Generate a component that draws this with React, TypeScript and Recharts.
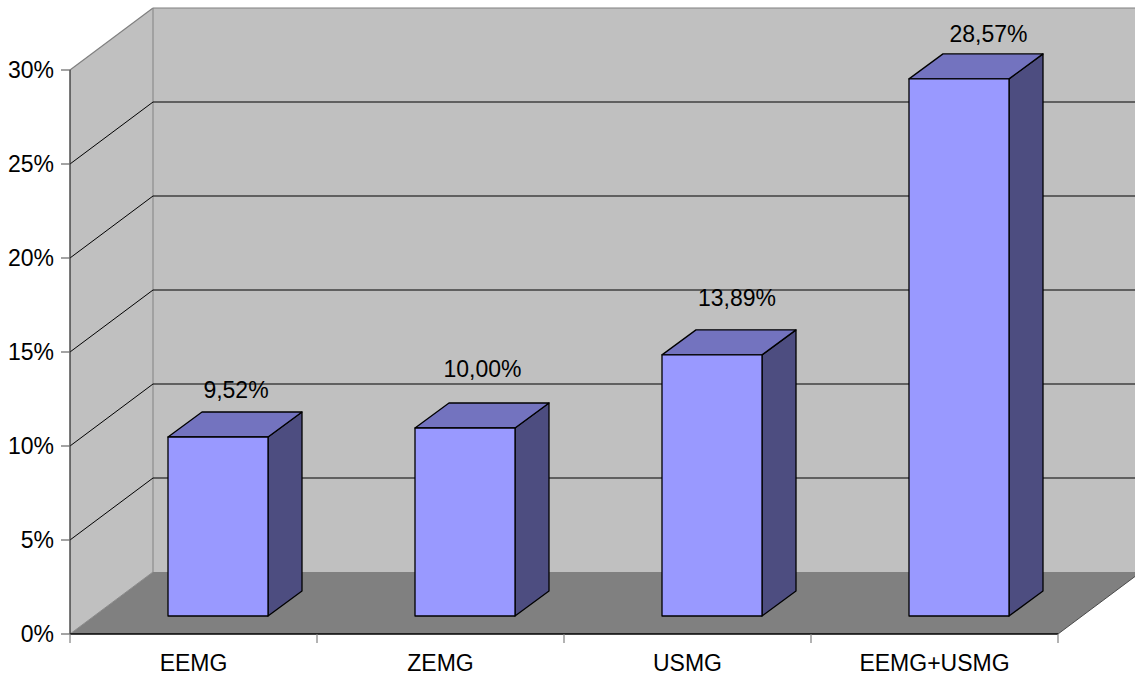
import React from 'react';
import { BarChart, Bar, XAxis, YAxis, CartesianGrid, ReferenceArea, LabelList } from 'recharts';

// Share per group, in percent
const categories = ['EEMG', 'ZEMG', 'USMG', 'EEMG+USMG'];
const shares = [9.52, 10.0, 13.89, 28.57];
const yTicks = [0, 5, 10, 15, 20, 25, 30];

const data = categories.map((name, i) => ({ name, value: shares[i] }));

const FONT = '"Liberation Sans", Arial, sans-serif';
const FONT_SIZE = 23;
// depth of the floor / walls (3D offset from the front plane to the back wall)
const DX = 83;
const DY = 62;
// front face of the bars sits this far into the depth, bars are BDX x BDY deep
const BX = 24;
const BY = 18;
const BDX = 34;
const BDY = 25;
// placement of each value label relative to the bar's front-face centre / top-back edge
const LABEL_SHIFT_X = [18, 17.5, 25, 29.5];
const LABEL_RISE = [14, 26, 24, 12];

const fmt = (v: number) => v.toFixed(2).replace('.', ',') + '%';

// Left wall, back wall and floor, built from the plot rectangle of 0%..30%
const Walls = (p: any) => {
  const { x, y, width, height } = p;
  const L = x;
  const R = x + width;
  const T = y;
  const B = y + height;
  return (
    <g>
      <polygon points={`${L},${B} ${L},${T} ${L + DX},${T - DY} ${L + DX},${B - DY}`} fill="#C0C0C0" />
      <polygon points={`${L + DX},${T - DY} ${R + DX},${T - DY} ${R + DX},${B - DY} ${L + DX},${B - DY}`} fill="#C0C0C0" />
      <polygon points={`${L},${B} ${R},${B} ${R + DX},${B - DY} ${L + DX},${B - DY}`} fill="#808080" />
      <line x1={L} y1={T} x2={L + DX} y2={T - DY} stroke="#808080" strokeWidth={1.2} />
      <line x1={L + DX} y1={T - DY} x2={R + DX} y2={T - DY} stroke="#808080" strokeWidth={1.2} />
      <line x1={L + DX} y1={T - DY} x2={L + DX} y2={B - DY} stroke="#8C8C8C" strokeWidth={1.2} />
      <line x1={L} y1={B} x2={L + DX} y2={B - DY} stroke="#8A8A8A" strokeWidth={1} />
      <line x1={R} y1={B} x2={R + DX} y2={B - DY} stroke="#4A4A4A" strokeWidth={1} />
    </g>
  );
};

// Each value gridline runs diagonally up the left wall and across the back wall
const GridLine = (p: any) => {
  const { x1, y1, x2 } = p;
  const top = p.y;
  const bottom = p.y + p.height;
  if (Math.abs(y1 - top) < 0.5 || Math.abs(y1 - bottom) < 0.5) {
    return <g />;
  }
  return (
    <g>
      <line x1={x1} y1={y1} x2={x1 + DX} y2={y1 - DY} stroke="#000" strokeWidth={1} />
      <line x1={x1 + DX} y1={y1 - DY} x2={x2 + DX} y2={y1 - DY} stroke="#000" strokeWidth={1} />
    </g>
  );
};

// Box-shaped bar: front, top and side faces
const Bar3D = (p: any) => {
  const { x, y, width, height } = p;
  if (height == null || width == null) return <g />;
  const fx = x + BX;
  const fy = y - BY;
  const w = width;
  const h = height;
  return (
    <g stroke="#000" strokeWidth={1.3} strokeLinejoin="round">
      <polygon
        points={`${fx + w},${fy} ${fx + w + BDX},${fy - BDY} ${fx + w + BDX},${fy + h - BDY} ${fx + w},${fy + h}`}
        fill="#4D4D80"
      />
      <polygon
        points={`${fx},${fy} ${fx + BDX},${fy - BDY} ${fx + w + BDX},${fy - BDY} ${fx + w},${fy}`}
        fill="#7373BF"
      />
      <rect x={fx} y={fy} width={w} height={h} fill="#9999FF" />
    </g>
  );
};

const BarValue = (p: any) => {
  const { x, y, width, value, index } = p;
  const i = index ?? 0;
  return (
    <text
      x={x + BX + width / 2 + (LABEL_SHIFT_X[i] ?? 20)}
      y={y - BY - BDY - (LABEL_RISE[i] ?? 14)}
      textAnchor="middle"
      fontSize={FONT_SIZE}
      fontFamily={FONT}
      fill="#000"
    >
      {fmt(Number(value))}
    </text>
  );
};

// Category label centred in its band, with tick marks at the band boundaries
const XTick = (p: any) => {
  const { x, y, payload, index, visibleTicksCount } = p;
  const half = payload && payload.offset ? payload.offset : 123.5;
  const last = index === (visibleTicksCount ?? categories.length) - 1;
  return (
    <g>
      <line x1={x - half} y1={y} x2={x - half} y2={y + 9} stroke="#808080" strokeWidth={1.2} />
      {last && <line x1={x + half} y1={y} x2={x + half} y2={y + 9} stroke="#808080" strokeWidth={1.2} />}
      <text x={x} y={y + 37} textAnchor="middle" fontSize={FONT_SIZE} fontFamily={FONT} fill="#000">
        {payload.value}
      </text>
    </g>
  );
};

export default function App() {
  return (
    <div style={{ position: 'absolute', left: 0, top: 0, width: 1135, height: 678, background: '#fff' }}>
      <BarChart
        width={1135}
        height={678}
        data={data}
        margin={{ top: 70, right: 77, bottom: 14, left: 0 }}
      >
        <ReferenceArea y1={0} y2={30} ifOverflow="visible" shape={Walls} zIndex={-150} />
        <CartesianGrid vertical={false} horizontal={GridLine} />
        <XAxis
          dataKey="name"
          height={30}
          tickLine={false}
          tickSize={0}
          tickMargin={0}
          interval={0}
          axisLine={{ stroke: '#000', strokeWidth: 1.3 }}
          tick={XTick}
        />
        <YAxis
          width={70}
          domain={[0, 30]}
          ticks={yTicks}
          interval={0}
          tickFormatter={(v: number) => `${v}%`}
          tickSize={9}
          tickMargin={7}
          axisLine={{ stroke: '#333', strokeWidth: 1.3 }}
          tickLine={{ stroke: '#666', strokeWidth: 1.2 }}
          tick={{ fontSize: FONT_SIZE, fill: '#000', fontFamily: FONT }}
        />
        <Bar dataKey="value" barSize={100} shape={Bar3D} isAnimationActive={false}>
          <LabelList dataKey="value" content={BarValue} />
        </Bar>
      </BarChart>
    </div>
  );
}
